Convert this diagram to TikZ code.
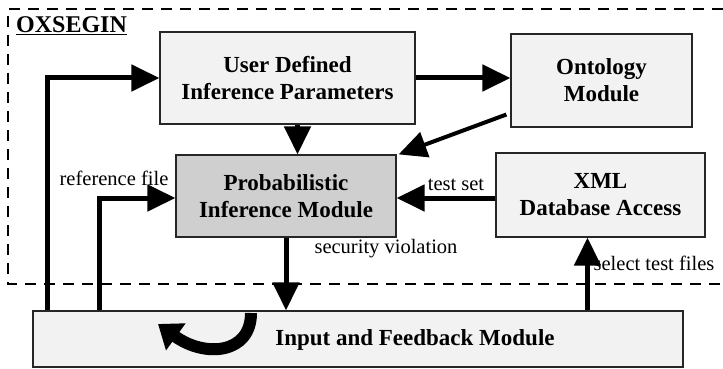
\documentclass[tikz,border=0pt]{standalone}
\usepackage{fontspec}
\setmainfont{Liberation Serif}
\usetikzlibrary{arrows.meta}
\usetikzlibrary{positioning}

\begin{document}
\begin{tikzpicture}[x=1pt,y=-1pt,
        box/.style={draw=black!85,line width=1.2pt,fill=gray!10,align=center,
            font=\fontsize{23}{27}\selectfont\bfseries,inner sep=0pt},
        lbl/.style={font=\fontsize{20.5}{22}\selectfont,inner sep=0pt,anchor=base},
        arr/.style={line width=5pt,-{Triangle[length=28pt,width=26pt]}}]
        \useasboundingbox (0,0) rectangle (723,369);
        % frame
        \draw[line width=1.5pt,dash pattern=on 11pt off 8pt] (723,9) -- (8,9) -- (8,284) -- (723,284);
        \node[anchor=base west,inner sep=0pt,font=\fontsize{24}{27}\selectfont\bfseries] (title) at (16,33) {\underline{OXSEGIN}};
        % modules
        \node[box,minimum width=255,minimum height=92] (udip) at (287.5,78) {User Defined\\Inference Parameters};
        \node[box,minimum width=181,minimum height=93] (onto) at (601.5,80.5) {Ontology\\Module};
        \node[box,fill=gray!38,minimum width=220,minimum height=82] (prob) at (286,196) {Probabilistic\\Inference Module};
        \node[box,minimum width=209,minimum height=84] (xmldb) at (600.5,195) {XML\\Database Access};
        \node[box,minimum width=650,minimum height=56] (input) at (358,339) {};
        \node[inner sep=0pt,font=\fontsize{23}{27}\selectfont\bfseries] (inputtxt) at (415,340) {Input and Feedback Module};
        % arrows
        \draw[arr] ([xshift=15pt]input.north west) |- (udip.west);
        \draw[arr] ([xshift=67pt]input.north west) |- ([yshift=-2pt]prob.west);
        \draw[arr] ([xshift=10pt]udip.south) -- ([xshift=10pt]udip.south |- prob.north);
        \draw[arr] (udip.east) -- (udip.east -| onto.west);
        \draw[line width=4pt,-{Triangle[length=28pt,width=26pt]}] ([xshift=-4pt,yshift=-34pt]onto.west) -- ([xshift=2pt]prob.north east);
        \draw[arr] ([yshift=-3pt]xmldb.west) -- ([yshift=-3pt]xmldb.west -| prob.east);
        \draw[arr] (prob.south) -- (prob.south |- input.north);
        \draw[arr] ([xshift=-13pt]xmldb.south |- input.north) -- ([xshift=-13pt]xmldb.south);
        \draw[line width=12pt,-{Triangle[length=22pt,width=32pt]}] (251,313) .. controls (251,354) and (205,358) .. (158,324);
        % labels
        \node[lbl] (reffile) at (114,185) {reference file};
        \node[lbl] (testset) at (456,190) {test set};
        \node[lbl] (secviol) at (386,253) {security violation};
        \node[lbl] (seltest) at (654,270) {select test files};
    \end{tikzpicture}
\end{document}
